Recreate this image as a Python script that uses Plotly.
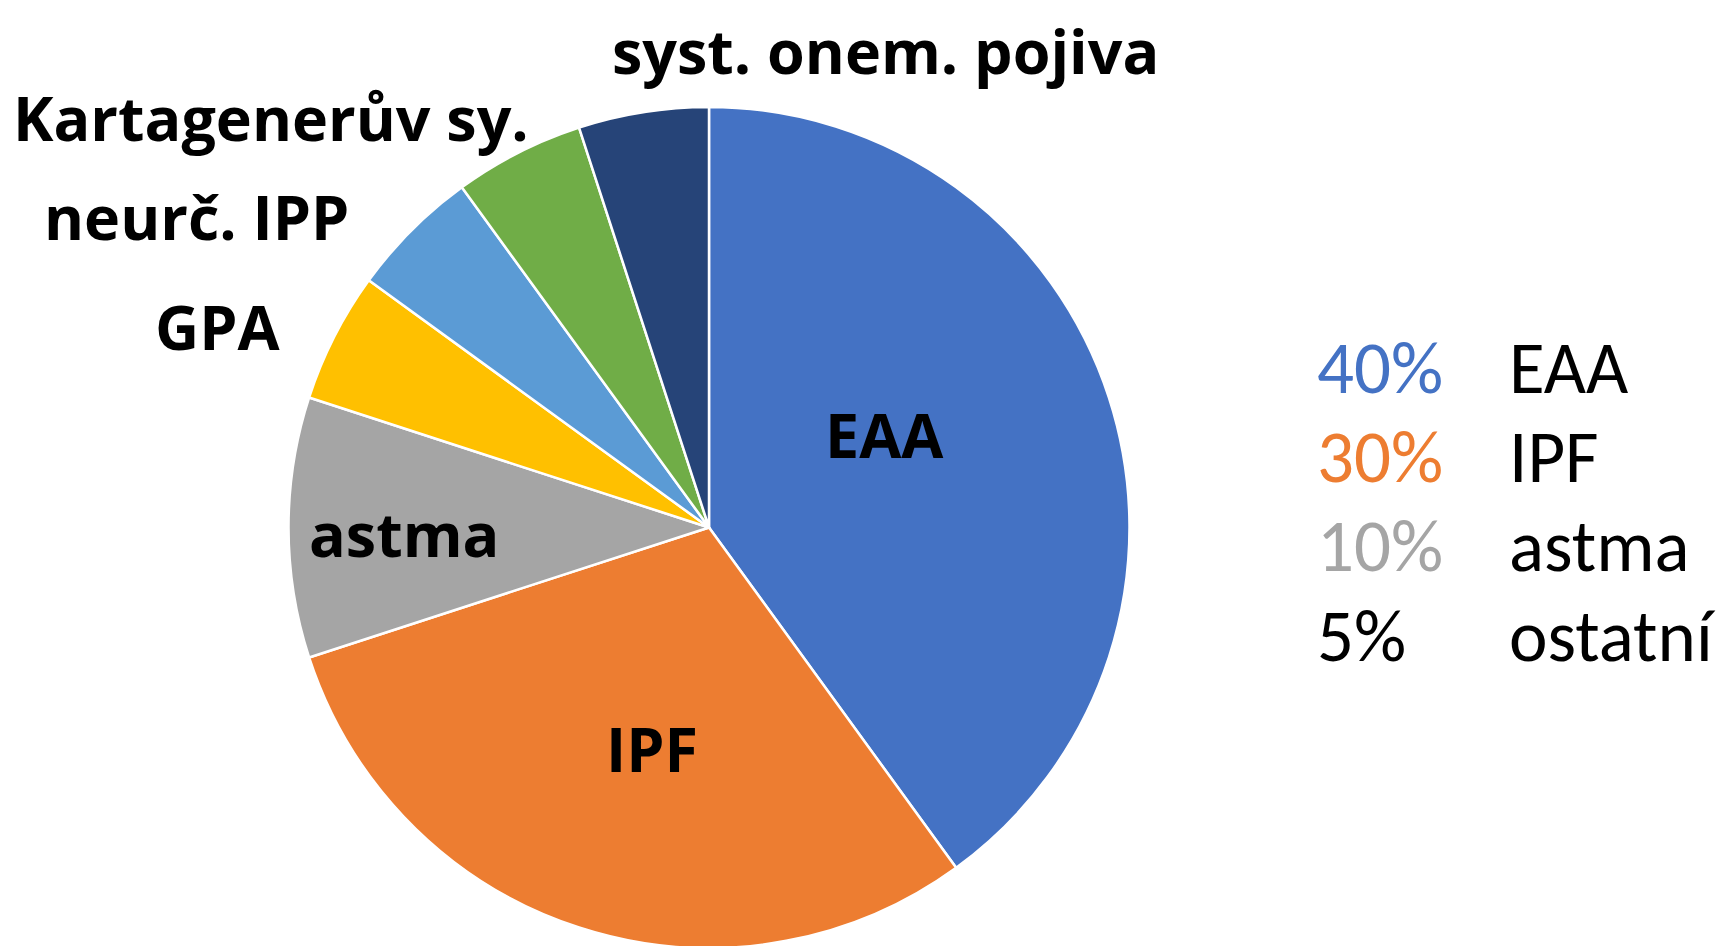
import plotly.graph_objects as go

W, H = 1726, 946

categories = ["EAA", "IPF", "astma", "GPA", "neurč. IPP", "Kartagenerův sy.", "syst. onem. pojiva"]
values = [40, 30, 10, 5, 5, 5, 5]
colors = ["#4472C4", "#ED7D31", "#A5A5A5", "#FFC000", "#5B9BD5", "#70AD47", "#264478"]

legend_pct = ["40%", "30%", "10%", "5%"]
legend_names = ["EAA", "IPF", "astma", "ostatní"]
legend_colors = ["#4472C4", "#ED7D31", "#A5A5A5", "#000000"]

BOLD = "Open Sans, sans-serif"
REG = "Carlito, Calibri, Lato, Open Sans, sans-serif"

def px(x):
    return x / W

def py(y):
    return 1 - y / H

cx, r = 701, 421
fig = go.Figure(go.Pie(
    labels=categories, values=values, sort=False, direction="clockwise", rotation=0,
    marker=dict(colors=colors, line=dict(color="white", width=2.5)),
    textinfo="none", hoverinfo="label+percent", showlegend=False,
    domain=dict(x=[px(cx - r), px(cx + r)], y=[6 / H, 1 - 99 / H]),
))

label_pos = {
    "EAA": (876, 426),
    "IPF": (644, 740),
    "astma": (396, 525),
    "GPA": (209, 319),
    "neurč. IPP": (188, 209),
    "Kartagenerův sy.": (263, 110),
    "syst. onem. pojiva": (877, 42),
}
anns = []
for c in categories:
    x, y = label_pos[c]
    anns.append(dict(x=px(x), y=py(y), xref="paper", yref="paper", text="<b>%s</b>" % c,
                     showarrow=False, xanchor="center", yanchor="middle",
                     font=dict(family=BOLD, size=61, color="black")))

rows_y = [360, 449, 538, 628]
for p, n, col, y in zip(legend_pct, legend_names, legend_colors, rows_y):
    anns.append(dict(x=px(1307), y=py(y), xref="paper", yref="paper", text=p, showarrow=False,
                     xanchor="left", yanchor="middle", font=dict(family=REG, size=73, color=col)))
    anns.append(dict(x=px(1499), y=py(y), xref="paper", yref="paper", text=n, showarrow=False,
                     xanchor="left", yanchor="middle", font=dict(family=REG, size=73, color="black")))

fig.update_layout(width=W, height=H, margin=dict(l=0, r=0, t=0, b=0),
                  paper_bgcolor="white", plot_bgcolor="white", annotations=anns)
fig.write_html("out.html")
